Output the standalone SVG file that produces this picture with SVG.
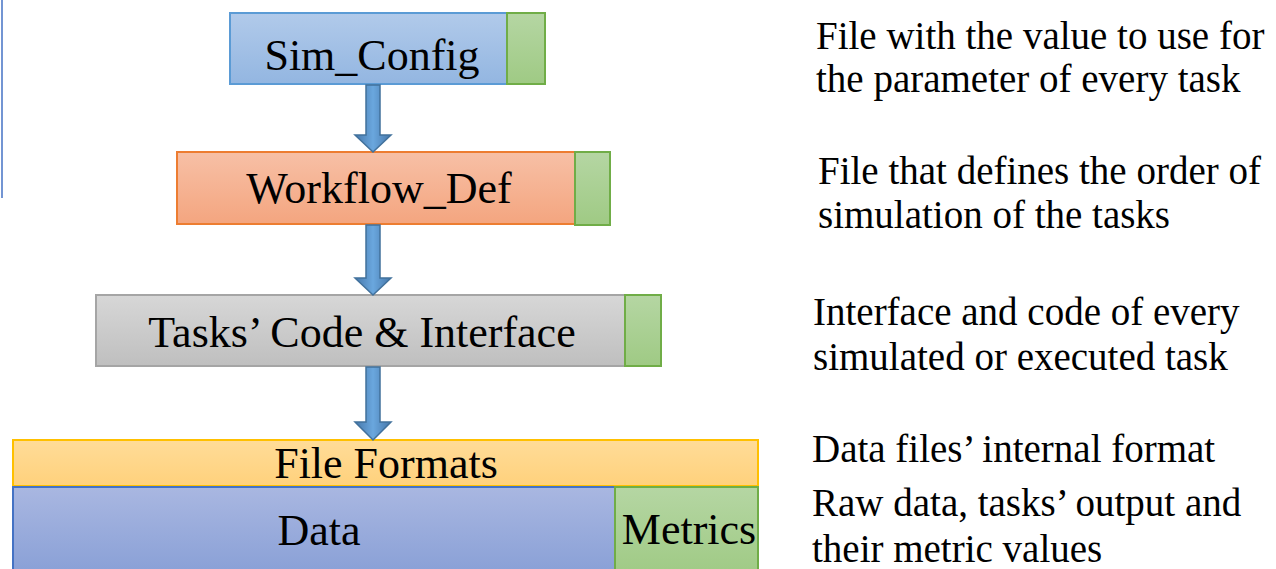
<svg xmlns="http://www.w3.org/2000/svg" width="1276" height="569" viewBox="0 0 1276 569">
  <defs>
    <linearGradient id="gBlue" x1="0" y1="0" x2="0" y2="1">
      <stop offset="0" stop-color="#b1caea"/>
      <stop offset="1" stop-color="#93b6e1"/>
    </linearGradient>
    <linearGradient id="gGreen" x1="0" y1="0" x2="0" y2="1">
      <stop offset="0" stop-color="#b5d6a3"/>
      <stop offset="1" stop-color="#9fca84"/>
    </linearGradient>
    <linearGradient id="gOrange" x1="0" y1="0" x2="0" y2="1">
      <stop offset="0" stop-color="#f7c0a6"/>
      <stop offset="1" stop-color="#f4a57f"/>
    </linearGradient>
    <linearGradient id="gGray" x1="0" y1="0" x2="0" y2="1">
      <stop offset="0" stop-color="#d7d7d7"/>
      <stop offset="1" stop-color="#bfbfbf"/>
    </linearGradient>
    <linearGradient id="gYellow" x1="0" y1="0" x2="0" y2="1">
      <stop offset="0" stop-color="#ffdc98"/>
      <stop offset="1" stop-color="#ffd17c"/>
    </linearGradient>
    <linearGradient id="gData" x1="0" y1="0" x2="0" y2="1">
      <stop offset="0" stop-color="#a9b7e1"/>
      <stop offset="1" stop-color="#889fd6"/>
    </linearGradient>
    <linearGradient id="gArrow" x1="0" y1="0" x2="1" y2="0">
      <stop offset="0" stop-color="#4677aa"/>
      <stop offset="0.5" stop-color="#6aa7de"/>
      <stop offset="1" stop-color="#4677aa"/>
    </linearGradient>
  </defs>
  <style>
    .box { stroke-width: 2; }
    text { font-family: 'Liberation Serif', 'DejaVu Serif', serif; fill: #000; }
    .lbl { font-size: 44px; text-anchor: middle; }
    .note { font-size: 39px; }
    .arrow { fill: url(#gArrow); stroke: #41719c; stroke-width: 1.5; stroke-linejoin: miter; }
  </style>

  <rect width="1276" height="569" fill="#ffffff"/>

  <!-- thin rule on the left edge -->
  <line x1="2" y1="0" x2="2" y2="198" stroke="#4472c4" stroke-width="1.5"/>

  <g id="sim-config">
    <rect class="box" x="230" y="13" width="277" height="71" fill="url(#gBlue)" stroke="#5b9bd5"/>
    <rect class="box" x="507" y="13" width="38" height="71" fill="url(#gGreen)" stroke="#70ad47"/>
    <text class="lbl" x="372" y="70" font-family="Liberation Serif, serif">Sim_Config</text>
  </g>

  <g id="workflow-def">
    <rect class="box" x="177" y="152" width="398" height="72" fill="url(#gOrange)" stroke="#ed7d31"/>
    <rect class="box" x="575" y="152" width="35" height="73" fill="url(#gGreen)" stroke="#70ad47"/>
    <text class="lbl" x="379" y="203" font-family="Liberation Serif, serif">Workflow_Def</text>
  </g>

  <g id="tasks-code">
    <rect class="box" x="96" y="295" width="529" height="71" fill="url(#gGray)" stroke="#a5a5a5"/>
    <rect class="box" x="625" y="295" width="36" height="71" fill="url(#gGreen)" stroke="#70ad47"/>
    <text class="lbl" x="362" y="347" font-family="Liberation Serif, serif">Tasks’ Code &amp; Interface</text>
  </g>

  <g id="file-formats">
    <rect class="box" x="13" y="440" width="745" height="46" fill="url(#gYellow)" stroke="#ffc000"/>
    <text class="lbl" x="386" y="478" font-family="Liberation Serif, serif">File Formats</text>
  </g>

  <g id="data">
    <rect class="box" x="13" y="487" width="602" height="90" fill="url(#gData)" stroke="#4472c4"/>
    <text class="lbl" x="319" y="545" font-family="Liberation Serif, serif">Data</text>
  </g>

  <g id="metrics">
    <rect class="box" x="615" y="487" width="143" height="90" fill="url(#gGreen)" stroke="#70ad47"/>
    <text class="lbl" x="689" y="544" font-family="Liberation Serif, serif">Metrics</text>
  </g>

  <g id="connectors">
    <path class="arrow" d="M366,85 H380 V135 H391 L373,152 L355,135 H366 Z"/>
    <path class="arrow" d="M366,225 H380 V278 H391 L373,295 L355,278 H366 Z"/>
    <path class="arrow" d="M366,367 H380 V422 H391 L373,440 L355,422 H366 Z"/>
  </g>

  <g id="notes" font-family="Liberation Serif, serif">
    <text class="note" x="816" y="49">File with the value to use for</text>
    <text class="note" x="816" y="92">the parameter of every task</text>
    <text class="note" x="818" y="184">File that defines the order of</text>
    <text class="note" x="818" y="228">simulation of the tasks</text>
    <text class="note" x="813" y="325">Interface and code of every</text>
    <text class="note" x="813" y="370">simulated or executed task</text>
    <text class="note" x="812" y="462">Data files’ internal format</text>
    <text class="note" x="812" y="516">Raw data, tasks’ output and</text>
    <text class="note" x="812" y="562">their metric values</text>
  </g>
</svg>
